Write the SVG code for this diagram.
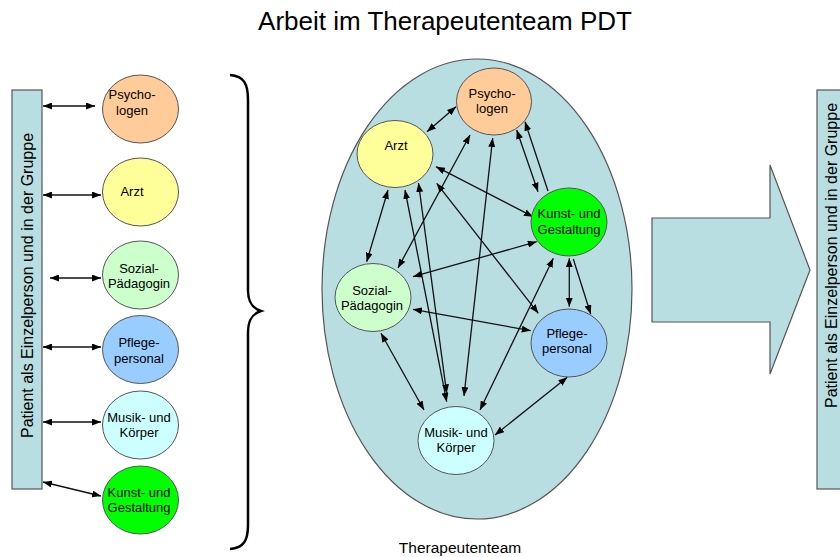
<svg xmlns="http://www.w3.org/2000/svg" width="840" height="557" viewBox="0 0 840 557">
<style>
text{font-family:"Liberation Sans",Arial,sans-serif;fill:#000}
.lbl{font-size:13px;text-anchor:middle}
.node{stroke:#555;stroke-width:1}
.bg{fill:#B8DEE2;stroke:#555;stroke-width:1.2}
.c{stroke:#111;stroke-width:1.3;fill:none}
.d{marker-start:url(#ah);marker-end:url(#ah)}
.s{marker-end:url(#ah)}
</style>
<defs>
<marker id="ah" viewBox="0 0 9 7" refX="9" refY="3.5" markerWidth="9" markerHeight="7" markerUnits="userSpaceOnUse" orient="auto-start-reverse">
<path d="M0,0 L9,3.5 L0,7 z" fill="#000"/>
</marker>
</defs>
<rect width="840" height="557" fill="#fff"/>
<text x="445" y="30" font-size="26" text-anchor="middle">Arbeit im Therapeutenteam PDT</text>

<g id="bar-left">
<rect class="bg" x="12" y="90" width="30" height="399"/>
<text transform="translate(32.5,285.5) rotate(-90)" font-size="16" text-anchor="middle">Patient als Einzelperson und in der Gruppe</text>
</g>
<g id="bar-right">
<rect class="bg" x="817" y="90" width="30" height="399"/>
<text transform="translate(836.5,255.5) rotate(-90)" font-size="16" text-anchor="middle">Patient als Einzelperson und in der Gruppe</text>
</g>

<g id="brace">
<path d="M230,75 C244,76 248,84 248,100 L248,290 C248,302 252,308 261,311 C252,314 248,320 248,332 L248,525 C248,540 244,548 230,549" fill="none" stroke="#000" stroke-width="2.5"/>
</g>

<g id="team">
<ellipse class="bg" cx="477" cy="289" rx="155" ry="230"/>
<text x="460" y="553" font-size="15.5" text-anchor="middle">Therapeutenteam</text>
</g>

<g id="big-arrow">
<polygon class="bg" points="652,218 770,218 770,165 810,270 770,374 770,322 652,322"/>
</g>

<g id="connectors">
<!-- left column -->
<line class="c d" x1="43" y1="106" x2="95" y2="106"/>
<line class="c d" x1="43" y1="195" x2="101" y2="195"/>
<line class="c d" x1="50" y1="278" x2="101" y2="278"/>
<line class="c d" x1="43" y1="347" x2="101" y2="347"/>
<line class="c d" x1="43" y1="422" x2="101" y2="422"/>
<line class="c d" x1="43" y1="482" x2="101" y2="496"/>
<!-- team -->
<line class="c d" x1="427" y1="131.7" x2="456" y2="106.7"/>
<line class="c d" x1="470" y1="135" x2="398" y2="268"/>
<line class="c d" x1="492.7" y1="138" x2="464" y2="396"/>
<line class="c d" x1="516.7" y1="130" x2="538" y2="191.7"/>
<line class="c s" x1="548" y1="191" x2="525" y2="121.7"/>
<line class="c d" x1="436" y1="166.7" x2="533" y2="216.7"/>
<line class="c d" x1="388" y1="190" x2="366.7" y2="261.7"/>
<line class="c d" x1="405" y1="190" x2="446.7" y2="401.7"/>
<line class="c d" x1="418.5" y1="183" x2="446.7" y2="393.3"/>
<line class="c d" x1="436.7" y1="183.3" x2="538.3" y2="313.3"/>
<line class="c d" x1="536.7" y1="241.7" x2="413" y2="276.7"/>
<line class="c d" x1="553.3" y1="258.3" x2="480" y2="410"/>
<line class="c d" x1="569.3" y1="258.3" x2="569.3" y2="306.7"/>
<line class="c s" x1="573.3" y1="259" x2="590.7" y2="314"/>
<line class="c d" x1="413" y1="309.3" x2="530.7" y2="330.7"/>
<line class="c d" x1="381" y1="333.3" x2="424" y2="410"/>
<line class="c d" x1="567.3" y1="377.3" x2="495" y2="435"/>
</g>

<!-- left column nodes -->
<g id="l-psycho"><ellipse class="node" cx="140.5" cy="109" rx="38" ry="34" fill="#FFCC99"/>
<text class="lbl" x="132" y="99">Psycho-</text><text class="lbl" x="132" y="115">logen</text></g>
<g id="l-arzt"><ellipse class="node" cx="140.5" cy="192" rx="38" ry="34" fill="#FFFF99"/>
<text class="lbl" x="132" y="196">Arzt</text></g>
<g id="l-sozial"><ellipse class="node" cx="140.5" cy="275" rx="38" ry="34" fill="#CCFFCC"/>
<text class="lbl" x="139" y="273">Sozial-</text><text class="lbl" x="139" y="288">Pädagogin</text></g>
<g id="l-pflege"><ellipse class="node" cx="140.5" cy="349.5" rx="38" ry="34" fill="#99CCFF"/>
<text class="lbl" x="139" y="347">Pflege-</text><text class="lbl" x="139" y="363">personal</text></g>
<g id="l-musik"><ellipse class="node" cx="140.5" cy="425" rx="38" ry="34" fill="#CCFFFF"/>
<text class="lbl" x="139" y="422">Musik- und</text><text class="lbl" x="139" y="437">Körper</text></g>
<g id="l-kunst"><ellipse class="node" cx="140.5" cy="500" rx="38" ry="34" fill="#00FF00"/>
<text class="lbl" x="139" y="497">Kunst- und</text><text class="lbl" x="139" y="512">Gestaltung</text></g>

<!-- team nodes -->
<g id="t-psycho"><ellipse class="node" cx="494" cy="101.5" rx="37.5" ry="33.5" fill="#FFCC99"/>
<text class="lbl" x="492" y="98">Psycho-</text><text class="lbl" x="492" y="113">logen</text></g>
<g id="t-arzt"><ellipse class="node" cx="395" cy="154" rx="38" ry="33.5" fill="#FFFF99"/>
<text class="lbl" x="396" y="150">Arzt</text></g>
<g id="t-kunst"><ellipse class="node" cx="569" cy="222" rx="38" ry="34" fill="#00FF00"/>
<text class="lbl" x="569" y="218">Kunst- und</text><text class="lbl" x="569" y="234">Gestaltung</text></g>
<g id="t-sozial"><ellipse class="node" cx="373" cy="297.5" rx="38" ry="34" fill="#CCFFCC"/>
<text class="lbl" x="372" y="295">Sozial-</text><text class="lbl" x="372" y="310">Pädagogin</text></g>
<g id="t-pflege"><ellipse class="node" cx="569" cy="343" rx="38" ry="34" fill="#99CCFF"/>
<text class="lbl" x="567" y="338">Pflege-</text><text class="lbl" x="567" y="353">personal</text></g>
<g id="t-musik"><ellipse class="node" cx="456" cy="440.5" rx="38" ry="34" fill="#CCFFFF"/>
<text class="lbl" x="456" y="437">Musik- und</text><text class="lbl" x="456" y="452">Körper</text></g>
</svg>
